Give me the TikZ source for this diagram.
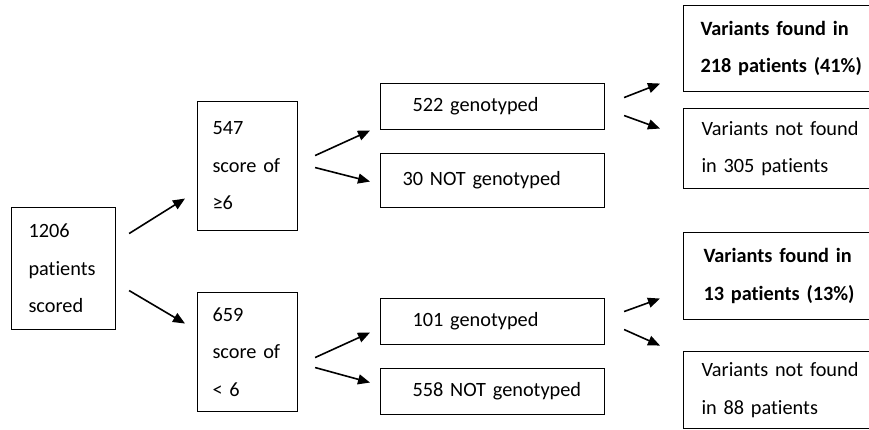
\documentclass[tikz,border=0pt]{standalone}
\usepackage{fontspec}
\setmainfont[Ligatures=NoCommon]{Carlito}
\usetikzlibrary{arrows.meta}
\newcommand\stagefont{\fontsize{20.3}{37.5}\selectfont}
\tikzset{
  stage/.style={draw, line width=1.1pt, anchor=north west, inner xsep=0pt,
    inner ysep=0pt, align=left, font=\stagefont},
  pad/.style={execute at begin node={\leftskip=#1}},
  flow/.style={-{Triangle[length=12pt,width=10pt]}, line width=1.6pt}
}

\begin{document}
\begin{tikzpicture}[x=1pt,y=-1pt]
  \useasboundingbox (0,0) rectangle (869,430);
  \clip (0,0) rectangle (869,430);
  % scoring
  \node[stage, text width=104pt, minimum height=122pt, pad=17pt] (scored) at (11,207) {1206\\patients\\scored};
  \node[stage, text width=100pt, minimum height=129pt, pad=15pt] (high) at (197,101) {547\\score of\\≥6};
  \node[stage, text width=100pt, minimum height=119pt, pad=15pt] (low) at (197,292) {659\\score of\\< 6};
  % genotyping
  \node[stage, text width=224pt, minimum height=46pt, pad=32pt] (typedhigh) at (380,83) {522 genotyped};
  \node[stage, text width=224pt, minimum height=54pt, pad=22pt] (skiphigh) at (380,153) {30 NOT genotyped};
  \node[stage, text width=224pt, minimum height=46pt, pad=32pt] (typedlow) at (380,298) {101 genotyped};
  \node[stage, text width=224pt, minimum height=46pt, pad=32pt] (skiplow) at (380,368) {558 NOT genotyped};
  % results
  \node[stage, font=\stagefont\bfseries, text width=200pt, minimum height=86pt, pad=17pt] (foundhigh) at (683,5) {Variants found in\\218 patients (41\%)};
  \node[stage, text width=200pt, minimum height=80pt, pad=18pt] (nonehigh) at (683,108) {Variants not found\\in 305 patients};
  \node[stage, font=\stagefont\bfseries, text width=200pt, minimum height=87pt, pad=20pt] (foundlow) at (683,232) {Variants found in\\13 patients (13\%)};
  \node[stage, text width=200pt, minimum height=77pt, pad=18pt] (nonelow) at (683,351) {Variants not found\\in 88 patients};
  % arrows
  \draw[flow] ([shift={(13,-35)}]scored.east) -- ([shift={(-12,32.5)}]high.west);
  \draw[flow] ([shift={(13,22)}]scored.east) -- ([shift={(-12,-28.5)}]low.west);
  \draw[flow] ([shift={(17,-10.5)}]high.east) -- ([shift={(-10,24)}]typedhigh.west);
  \draw[flow] ([shift={(17,1.5)}]high.east) -- ([shift={(-10,1)}]skiphigh.west);
  \draw[flow] ([shift={(17,5.5)}]low.east) -- ([shift={(-10,11)}]typedlow.west);
  \draw[flow] ([shift={(17,15.5)}]low.east) -- ([shift={(-10,-9)}]skiplow.west);
  \draw[flow] ([shift={(19,-9)}]typedhigh.east) -- ([shift={(-23,35)}]foundhigh.west);
  \draw[flow] ([shift={(19,9)}]typedhigh.east) -- ([shift={(-23,-20)}]nonehigh.west);
  \draw[flow] ([shift={(19,-10)}]typedlow.east) -- ([shift={(-23,22.5)}]foundlow.west);
  \draw[flow] ([shift={(19,8)}]typedlow.east) -- ([shift={(-23,-44.5)}]nonelow.west);
\end{tikzpicture}
\end{document}
